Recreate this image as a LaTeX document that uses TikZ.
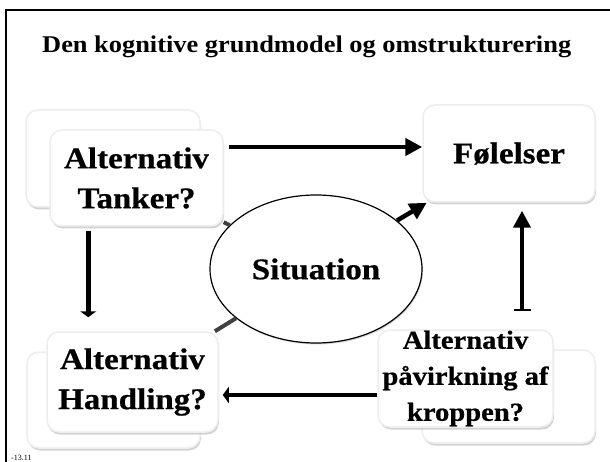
\documentclass[tikz,border=0pt]{standalone}
\usepackage{fontspec}
\setmainfont{Liberation Serif}
\newfontfamily\slidefont[FakeStretch=1.1]{Liberation Serif}
\newfontfamily\cardfont[FakeStretch=1.1,FakeBold=0.6]{Liberation Serif}
\usepackage{tikz}
\usetikzlibrary{positioning,arrows.meta,shapes.geometric,shadows,calc}

\begin{document}
\begin{tikzpicture}[
  x=1pt, y=-1pt,
  card/.style={draw=black!7, line width=1.5pt, fill=white, rounded corners=12pt,
               drop shadow={shadow xshift=1pt, shadow yshift=-2.5pt, fill=black!35},
               align=center, inner sep=0pt},
  big/.style={font=\cardfont\bfseries\fontsize{30}{40}\selectfont},
  arrow/.style={line width=4.5pt, -{Triangle[length=17pt,width=17pt]}},
  blunt/.style={line width=4.5pt, -{Triangle[length=6pt,width=16pt]}},
  link/.style={line width=4pt, black!75}
]
  \useasboundingbox (0,0) rectangle (610,462);
  \draw[line width=2pt] (6,462) |- (610,10);

  \node[anchor=base west, inner sep=0pt,
        font=\slidefont\bfseries\fontsize{24}{28}\selectfont] (title) at (42,53)
        {Den kognitive grundmodel og omstrukturering};

  \node[ellipse, draw, line width=1.2pt, fill=white, big,
        drop shadow={shadow xshift=1pt, shadow yshift=-1.5pt, fill=black!30},
        minimum width=212pt, minimum height=148pt, inner sep=0pt] (sit) at (316,269) {Situation};

  % the cards
  \node[card, minimum width=174pt, minimum height=97pt] (tankbg) at (113,158.5) {};
  \node[card, big, minimum width=173pt, minimum height=96pt] (tank) at (136.5,178) {Alternativ\\Tanker?};
  \node[card, big, minimum width=172pt, minimum height=97pt] (fol) at (509,153.5) {Følelser};
  \node[card, minimum width=173pt, minimum height=96pt] (handbg) at (113.5,400) {};
  \node[card, big, minimum width=171pt, minimum height=100pt] (hand) at (132.5,382) {Alternativ\\Handling?};
  \node[card, minimum width=173pt, minimum height=93pt] (paabg) at (508.5,396.5) {};
  \node[card, minimum width=175pt, minimum height=97pt,
        font=\cardfont\bfseries\fontsize{26}{36}\selectfont] (paa) at (465.5,378.5)
        {Alternativ\\påvirkning af\\kroppen?};

  \node[anchor=west, inner sep=0pt, font=\fontsize{8}{9}\selectfont] (date) at (11,458) {-13.11};

  % connectors
  \draw[arrow, shorten <=5pt] ([yshift=6.5pt]fol.west -| tank.east) -- ([yshift=6.5pt]fol.west);
  \draw[arrow] (sit) -- (fol);
  \draw[line width=4.5pt, {Bar[width=17pt,line width=2pt]}-{Triangle[length=17pt,width=17pt]}, shorten >=8pt]
    ($(fol.south |- paa.north)+(13,-18)$) -- ($(fol.south)+(13,0)$);
  \draw[blunt, shorten <=4pt, shorten >=14pt]
    ($(tank.south west)+(39,0)$) -- ($(tank.south west |- hand.north)+(39,0)$);
  \draw[blunt, shorten >=4pt] ($(paa.west |- hand.east)+(0,13)$) -- ($(hand.east)+(0,13)$);
  \draw[link] (tank) -- (sit);
  \draw[link] (hand) -- (sit);
\end{tikzpicture}
\end{document}
